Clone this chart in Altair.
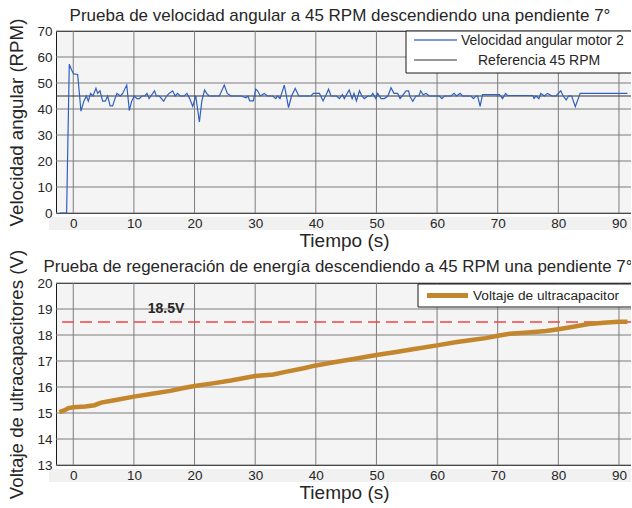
import altair as alt
import pandas as pd

# --- Motor 2 angular speed (RPM) over time (s) ---
vel_t = [-2.2, -1.1, -0.66, -0.27, 0.06, 0.72, 1.27, 1.75, 2.15, 2.48, 2.85, 3.25, 3.74, 4.02,
         4.4, 4.85, 5.28, 5.67, 6.08, 6.49, 6.88, 7.2, 7.76, 8.14, 8.82, 9.24, 9.63, 10.07,
         10.5, 10.9, 11.3, 11.8, 12.16, 12.5, 12.8, 13.4, 13.7, 14.2, 14.9, 15.4, 15.8, 16.4,
         16.8, 17.2, 17.65, 18.3, 18.75, 19.2, 19.7, 20.2, 20.8, 21.2, 21.65, 22.0, 22.4,
         23.3, 24.1, 24.9, 25.4, 26.0, 27.7, 28.5, 28.8, 29.1, 29.7, 30.1, 30.4, 30.85,
         31.5, 32.05, 32.9, 33.4, 33.7, 34.1, 34.8, 35.15, 35.5, 36.0, 36.6, 37.2, 38.1,
         39.2, 39.6, 40.0, 40.6, 41.2, 41.8, 42.1, 42.5, 43.4, 43.9, 44.4, 44.7, 45.5,
         46.0, 46.3, 46.7, 47.2, 47.6, 48.0, 48.6, 49.1, 49.4, 49.9, 50.2, 50.75, 51.3,
         51.9, 52.4, 52.9, 53.5, 53.9, 54.9, 55.3, 55.5, 56.0, 56.5, 57.0, 57.3, 57.7,
         58.2, 58.7, 60.4, 60.8, 61.2, 62.3, 62.8, 63.2, 63.8, 64.2, 65.6, 66.0, 66.4,
         66.7, 67.1, 67.5, 70.3, 70.8, 71.3, 71.6, 75.8, 76.0, 76.3, 76.8, 77.1, 77.7,
         78.2, 79.0, 79.6, 80.4, 80.8, 81.3, 81.7, 82.2, 82.8, 83.6, 91.4]
vel_rpm = [0, 0, 57.2, 55.0, 53.5, 53.3, 39.2, 43, 45, 43, 46, 45, 48, 46,
           47, 43, 43, 45, 41.2, 41.2, 44, 46, 45, 46, 49.2, 39.4, 43, 45,
           44, 44, 45, 45, 46, 44, 45, 47, 45, 45, 43, 45, 46, 47,
           45, 46, 45, 45, 46, 44, 41, 45, 35, 43, 47.3, 46, 45,
           45, 45, 49.2, 46, 45, 45, 44.3, 45, 43.1, 43.1, 47.6, 47, 45,
           46, 45, 45, 44, 45, 44, 49.2, 45, 40.5, 45, 47.9, 45, 45,
           45, 46, 46, 46, 43.1, 46, 47.6, 45, 45, 44, 45.5, 44, 47.3,
           44, 46, 43.1, 47, 45, 44, 45, 45, 46, 44, 46, 44, 44,
           45, 48.2, 46, 46, 44, 47, 47, 45, 43, 45, 45, 47, 45.5,
           46, 45, 45, 44, 45, 45, 46, 45, 46, 45, 45, 44, 45,
           45, 41, 45.5, 45.5, 44, 46, 45.2, 45.2, 44, 45, 44, 46, 45,
           46, 45, 45, 47, 45, 43.5, 45, 45, 40.9, 46, 46]

ref_rpm = 45

# --- Ultracapacitor voltage (V) over time (s) ---
volt_t = [-2.3, -1.5, -0.8, 0, 2, 3.5, 4.6, 7, 10, 13, 16, 18, 20, 23, 26, 30, 33, 35,
          38, 40, 43, 46, 50, 53, 56, 60, 63, 66, 68, 70, 72, 75, 78, 80, 82, 85, 88, 90, 91.4]
volt_v = [15.03, 15.1, 15.19, 15.22, 15.25, 15.3, 15.4, 15.5, 15.63, 15.74, 15.85, 15.95,
          16.04, 16.14, 16.25, 16.42, 16.48, 16.58, 16.72, 16.83, 16.95, 17.07, 17.23, 17.34,
          17.45, 17.6, 17.72, 17.82, 17.88, 17.97, 18.05, 18.1, 18.15, 18.22, 18.3, 18.42,
          18.48, 18.51, 18.51]

limit_v = 18.5
limit_label = "18.5V"
limit_label_t = 15.3

# --- Axis ticks ---
x_ticks = [0, 10, 20, 30, 40, 50, 60, 70, 80, 90]
rpm_ticks = [0, 10, 20, 30, 40, 50, 60, 70]
volt_ticks = [13, 14, 15, 16, 17, 18, 19, 20]

title_top = "Prueba de velocidad angular a 45 RPM descendiendo una pendiente 7°"
title_bottom = "Prueba de regeneración de energía descendiendo a 45 RPM una pendiente 7°"
x_title = "Tiempo (s)"
y_title_top = "Velocidad angular (RPM)"
y_title_bottom = "Voltaje de ultracapacitores (V)"
legend_speed = "Velocidad angular motor 2"
legend_ref = "Referencia 45 RPM"
legend_volt = "Voltaje de ultracapacitor"

# --- Styling ---
W, H = 576, 182
T_DOMAIN = [-2.85, 92.15]
FONT = "Liberation Sans"
INK = "#262626"
GRID = "#7c7c7c"
BLUE = "#2f60bf"
GOLD = "#c4862c"
RED = "#ee4648"
BAND = "#f1f1f1"

vel_df = pd.DataFrame({"t": vel_t, "v": vel_rpm})
volt_df = pd.DataFrame({"t": volt_t, "v": volt_v})
xgrid_df = pd.DataFrame({"t": x_ticks})
one = pd.DataFrame({"k": [0]})

x_axis = alt.Axis(values=x_ticks, title=x_title, grid=False, ticks=False, domain=False,
                  labelPadding=3, labelFlush=False, titlePadding=2, titleFontSize=19, zindex=1)


def y_axis(values, title):
    return alt.Axis(values=values, title=title, grid=False, ticks=False, domain=False,
                    labelPadding=4, titlePadding=9, minExtent=21, maxExtent=21,
                    titleFontSize=18.7, zindex=1)


def xs():
    return alt.X("t:Q", scale=alt.Scale(domain=T_DOMAIN, nice=False, zero=False), axis=x_axis)


def ys(domain, values, title):
    return alt.Y("v:Q", scale=alt.Scale(domain=domain, nice=False, zero=False),
                 axis=y_axis(values, title))


def panel(domain, yticks, ytitle, series_layers, legend_layers, title, title_x, title_dy,
          title_size):
    y = lambda: ys(domain, yticks, ytitle)
    band = alt.Chart(one).mark_rect(fill=BAND).encode(
        x=alt.value(-7), x2=alt.value(W), y=alt.value(H + 4), y2=alt.value(H + 17))
    vgrid = alt.Chart(xgrid_df).mark_rule(color=GRID, strokeWidth=1).encode(x=xs())
    hgrid = alt.Chart(pd.DataFrame({"v": yticks})).mark_rule(
        color=GRID, strokeWidth=1).encode(y=y())
    heading = alt.Chart(pd.DataFrame({"label": [title]})).mark_text(
        align="center", baseline="alphabetic", fontSize=title_size, font=FONT,
        color=INK).encode(x=alt.value(title_x), y=alt.value(title_dy), text="label:N")
    layers = [band, vgrid, hgrid] + [f(xs, y) for f in series_layers] + legend_layers + [heading]
    return alt.layer(*layers).properties(width=W, height=H)


# Top panel: measured speed and its 45 RPM reference
def speed_line(xs, y):
    return alt.Chart(vel_df).mark_line(color=BLUE, strokeWidth=1.2).encode(x=xs(), y=y())


def ref_line(xs, y):
    return alt.Chart(pd.DataFrame({"v": [ref_rpm]})).mark_rule(
        color="#333333", strokeWidth=1).encode(y=y())


top_legend = [
    alt.Chart(one).mark_rect(fill="white", stroke="#1a1a1a", strokeWidth=1).encode(
        x=alt.value(350), x2=alt.value(W), y=alt.value(0), y2=alt.value(42)),
    alt.Chart(one).mark_rule(color="#4f78c8", strokeWidth=1.5).encode(
        x=alt.value(358), x2=alt.value(401), y=alt.value(9)),
    alt.Chart(pd.DataFrame({"label": [legend_speed]})).mark_text(
        align="left", baseline="middle", fontSize=14, font=FONT, color=INK).encode(
        x=alt.value(405), y=alt.value(10), text="label:N"),
    alt.Chart(one).mark_rule(color="#333333", strokeWidth=1).encode(
        x=alt.value(358), x2=alt.value(401), y=alt.value(29)),
    alt.Chart(pd.DataFrame({"label": [legend_ref]})).mark_text(
        align="left", baseline="middle", fontSize=14, font=FONT, color=INK).encode(
        x=alt.value(422), y=alt.value(30), text="label:N"),
]

top = panel([0, 70], rpm_ticks, y_title_top, [ref_line, speed_line], top_legend,
            title_top, W / 2 - 4, -10, 17)


# Bottom panel: ultracapacitor voltage and the 18.5 V limit
def limit_line(xs, y):
    return alt.Chart(pd.DataFrame({"v": [limit_v]})).mark_rule(
        color=RED, strokeWidth=1.5, strokeDash=[12, 6]).encode(y=y())


def limit_text(xs, y):
    return alt.Chart(pd.DataFrame({"t": [limit_label_t], "v": [limit_v], "label": [limit_label]})
                     ).mark_text(fontSize=14, fontWeight="bold", font=FONT, color=INK,
                                 baseline="bottom", dy=-6).encode(x=xs(), y=y(), text="label:N")


def volt_line(xs, y):
    return alt.Chart(volt_df).mark_line(color=GOLD, strokeWidth=4.5).encode(x=xs(), y=y())


bottom_legend = [
    alt.Chart(one).mark_rect(fill="white", stroke="#1a1a1a", strokeWidth=1).encode(
        x=alt.value(362), x2=alt.value(W), y=alt.value(1), y2=alt.value(24)),
    alt.Chart(one).mark_rule(color=GOLD, strokeWidth=5).encode(
        x=alt.value(371), x2=alt.value(412), y=alt.value(12.5)),
    alt.Chart(pd.DataFrame({"label": [legend_volt]})).mark_text(
        align="left", baseline="middle", fontSize=13.7, font=FONT, color=INK).encode(
        x=alt.value(417), y=alt.value(13), text="label:N"),
]

bottom = panel([13, 20], volt_ticks, y_title_bottom,
               [limit_line, limit_text, volt_line], bottom_legend, title_bottom,
               W / 2 - 6, -11, 16.9)

chart = alt.vconcat(top, bottom, spacing=70, bounds="flush").properties(
    padding={"left": 6, "top": 6, "right": -6, "bottom": 0}, background="white"
).configure_view(
    fill="#f4f4f4", stroke="#1a1a1a", strokeWidth=1
).configure_axis(
    labelFont=FONT, labelFontSize=13.5, labelColor=INK,
    titleFont=FONT, titleFontWeight="normal", titleColor=INK
)

chart.save("out.html", embed_options={"renderer": "svg", "actions": False})
